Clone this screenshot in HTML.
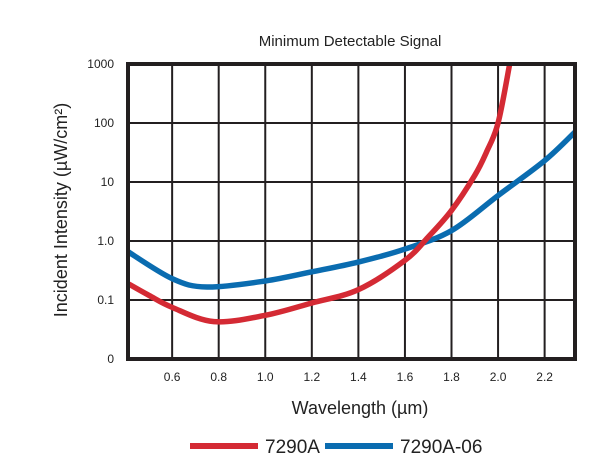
<!DOCTYPE html>
<html><head><meta charset="utf-8"><style>
body{margin:0;background:#fff;}
svg{display:block;font-family:"Liberation Sans",sans-serif;}
</style></head><body>
<svg id="chart" width="611" height="472">
<text x="350" y="46" text-anchor="middle" font-size="15" fill="#222">Minimum Detectable Signal</text>
<g id="grid"></g>
<g id="series"></g>
<rect x="128" y="64" width="447" height="295" fill="none" stroke="#231f20" stroke-width="4"/>
<g id="ticks"></g>
<text x="360" y="414" text-anchor="middle" font-size="18" fill="#222">Wavelength (µm)</text>
<text transform="translate(67,210) rotate(-90)" text-anchor="middle" font-size="18" fill="#222">Incident Intensity (µW/cm²)</text>
<g>
<g><line x1="190" y1="446" x2="258" y2="446" stroke="#d42a34" stroke-width="6"/><text x="265" y="453" font-size="19" fill="#222">7290A</text></g>
<g><line x1="325" y1="446" x2="393" y2="446" stroke="#0a6cb0" stroke-width="6"/><text x="400" y="453" font-size="19" fill="#222">7290A-06</text></g>
</g>
</svg>
<script>
const xTicks=[0.6,0.8,1.0,1.2,1.4,1.6,1.8,2.0,2.2];
const xTickLabels=["0.6","0.8","1.0","1.2","1.4","1.6","1.8","2.0","2.2"];
const yTicks=[0.01,0.1,1,10,100,1000];
const yTickLabels=["0","0.1","1.0","10","100","1000"];
const redX=[0.4,0.5,0.6,0.78,1.0,1.2,1.4,1.6,1.7,1.8,1.9,1.95,2.0,2.05];
const redY=[0.2,0.12,0.075,0.043,0.055,0.089,0.15,0.47,1.17,3.3,13,32,100,1000];
const blueX=[0.4,0.6,0.75,1.0,1.2,1.4,1.6,1.8,2.0,2.2,2.33];
const blueY=[0.7,0.23,0.166,0.21,0.3,0.44,0.73,1.5,5.9,23,70];
const NS="http://www.w3.org/2000/svg";
function xs(v){return 218.7+(v-0.8)*232.8;}
function ys(v){return 359-(Math.log10(v)+2)*59;}
const grid=document.getElementById('grid'),ticks=document.getElementById('ticks'),series=document.getElementById('series');
xTicks.forEach((t,i)=>{
 const l=document.createElementNS(NS,'line');
 l.setAttribute('x1',xs(t));l.setAttribute('x2',xs(t));l.setAttribute('y1',64);l.setAttribute('y2',359);
 l.setAttribute('stroke','#231f20');l.setAttribute('stroke-width','2');
 
 
 grid.appendChild(l);
 const tx=document.createElementNS(NS,'text');
 tx.setAttribute('x',xs(t));tx.setAttribute('y',381);tx.setAttribute('text-anchor','middle');tx.setAttribute('font-size','12');tx.setAttribute('fill','#222');
 tx.textContent=xTickLabels[i];
 
 
 ticks.appendChild(tx);
});
yTicks.forEach((t,i)=>{
 const l=document.createElementNS(NS,'line');
 l.setAttribute('x1',128);l.setAttribute('x2',575);l.setAttribute('y1',ys(t));l.setAttribute('y2',ys(t));
 l.setAttribute('stroke','#231f20');l.setAttribute('stroke-width','2');
 
 
 grid.appendChild(l);
 const tx=document.createElementNS(NS,'text');
 tx.setAttribute('x',114);tx.setAttribute('y',ys(t)+4);tx.setAttribute('text-anchor','end');tx.setAttribute('font-size','12');tx.setAttribute('fill','#222');
 tx.textContent=yTickLabels[i];
 
 
 ticks.appendChild(tx);
});
function pathFor(X,Y){
 const p=X.map((x,i)=>[xs(x),ys(Y[i])]);
 let d='M'+p[0][0]+','+p[0][1];
 for(let i=0;i<p.length-1;i++){
  const p0=p[i-1]||p[i],p1=p[i],p2=p[i+1],p3=p[i+2]||p2;
  const c1=[p1[0]+(p2[0]-p0[0])/6,p1[1]+(p2[1]-p0[1])/6];
  const c2=[p2[0]-(p3[0]-p1[0])/6,p2[1]-(p3[1]-p1[1])/6];
  d+=' C'+c1+' '+c2+' '+p2;
 }
 return d;
}
const clip=document.createElementNS(NS,'clipPath');clip.id='pc';
const cr=document.createElementNS(NS,'rect');cr.setAttribute('x',128);cr.setAttribute('y',64);cr.setAttribute('width',447);cr.setAttribute('height',295);
clip.appendChild(cr);series.appendChild(clip);
series.setAttribute('clip-path','url(#pc)');
const b=document.createElementNS(NS,'path');
b.setAttribute('d',pathFor(blueX,blueY));b.setAttribute('fill','none');b.setAttribute('stroke','#0a6cb0');b.setAttribute('stroke-width','5.5');


series.appendChild(b);
const r=document.createElementNS(NS,'path');
r.setAttribute('d',pathFor(redX,redY));r.setAttribute('fill','none');r.setAttribute('stroke','#d42a34');r.setAttribute('stroke-width','5.5');


series.appendChild(r);
</script>
</body></html>
